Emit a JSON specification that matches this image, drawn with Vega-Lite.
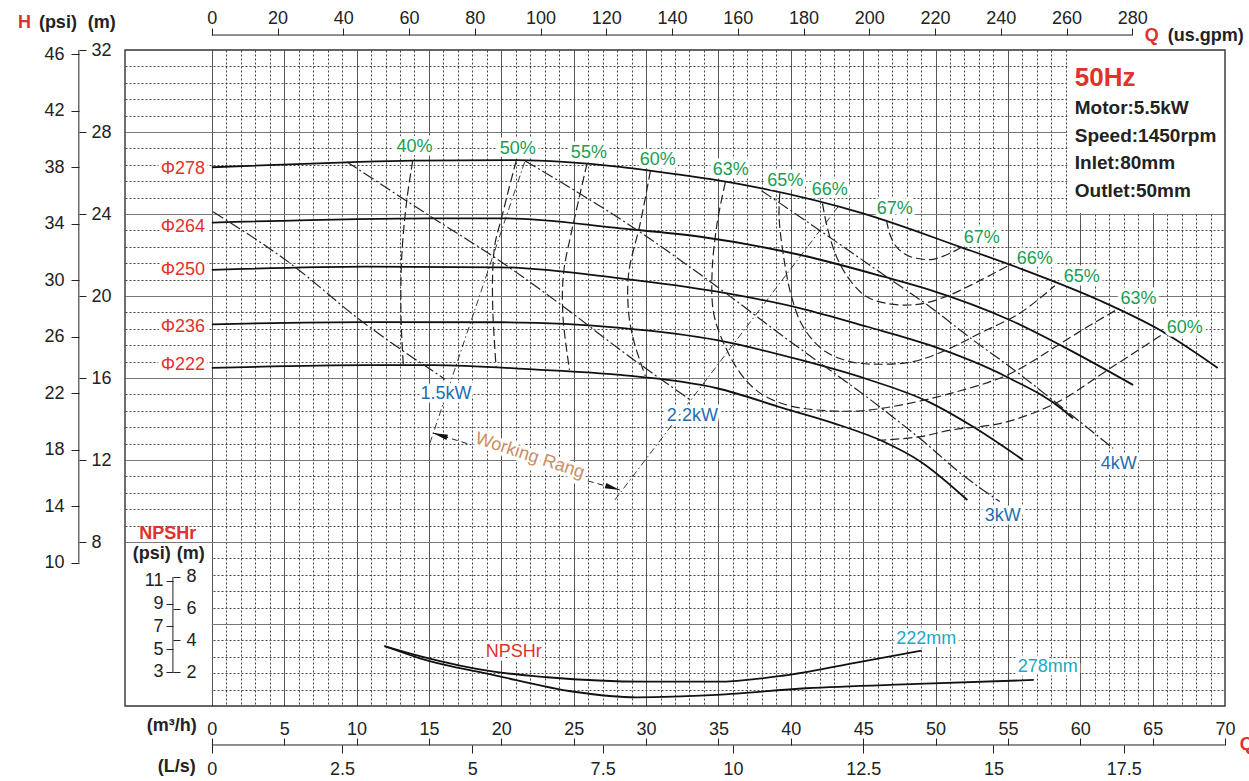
{
"$schema": "https://vega.github.io/schema/vega-lite/v6.json",
"width": 1100, "height": 656,
"autosize": {"type": "none"},
"padding": {"left": 125, "top": 50, "right": 24, "bottom": 75},
"background": "white",
"config": {
  "view": {"stroke": null},
  "font": "Liberation Sans",
  "axis": {"labelFont": "Liberation Sans", "labelFontSize": 18, "labelColor": "#222", "tickColor": "#222", "tickWidth": 1, "labelFlush": false, "labelOverlap": false, "labelBound": false, "domain": false, "grid": false},
  "text": {"font": "Liberation Sans", "fontSize": 18}
},
"datasets": {
  "panels": [{"q1": 59.1, "q2": 70, "h1": 24.05, "h2": 32}, {"q1": -6, "q2": 0, "h1": 0, "h2": 7.95}],
  "frame": [{"q1": -6, "q2": 70, "h1": 0, "h2": 32}],
  "head": [
    {"d": "Φ278", "q": 0, "h": 26.28}, {"d": "Φ278", "q": 9.32, "h": 26.52}, {"d": "Φ278", "q": 13.9, "h": 26.6}, {"d": "Φ278", "q": 21.08, "h": 26.63}, {"d": "Φ278", "q": 28.2, "h": 26.3}, {"d": "Φ278", "q": 30.26, "h": 26.12}, {"d": "Φ278", "q": 36.48, "h": 25.46}, {"d": "Φ278", "q": 44.98, "h": 24.03}, {"d": "Φ278", "q": 51.68, "h": 22.4}, {"d": "Φ278", "q": 55.82, "h": 21.35}, {"d": "Φ278", "q": 61.35, "h": 19.78}, {"d": "Φ278", "q": 65.5, "h": 18.34}, {"d": "Φ278", "q": 69.5, "h": 16.49},
    {"d": "Φ264", "q": 0, "h": 23.58}, {"d": "Φ264", "q": 15.29, "h": 23.79}, {"d": "Φ264", "q": 20.38, "h": 23.79}, {"d": "Φ264", "q": 28.22, "h": 23.3}, {"d": "Φ264", "q": 33.75, "h": 22.89}, {"d": "Φ264", "q": 40.67, "h": 22.0}, {"d": "Φ264", "q": 46.43, "h": 20.94}, {"d": "Φ264", "q": 49.6, "h": 20.3}, {"d": "Φ264", "q": 55.13, "h": 18.83}, {"d": "Φ264", "q": 58.82, "h": 17.53}, {"d": "Φ264", "q": 63.65, "h": 15.66},
    {"d": "Φ250", "q": 0, "h": 21.27}, {"d": "Φ250", "q": 10.7, "h": 21.43}, {"d": "Φ250", "q": 19.92, "h": 21.4}, {"d": "Φ250", "q": 28.22, "h": 20.86}, {"d": "Φ250", "q": 34.91, "h": 20.21}, {"d": "Φ250", "q": 40.67, "h": 19.4}, {"d": "Φ250", "q": 45.29, "h": 18.5}, {"d": "Φ250", "q": 49.6, "h": 17.6}, {"d": "Φ250", "q": 54.9, "h": 16.06}, {"d": "Φ250", "q": 58.82, "h": 14.44}, {"d": "Φ250", "q": 59.5, "h": 14.03},
    {"d": "Φ236", "q": 0, "h": 18.62}, {"d": "Φ236", "q": 10.7, "h": 18.73}, {"d": "Φ236", "q": 19.92, "h": 18.72}, {"d": "Φ236", "q": 28.22, "h": 18.45}, {"d": "Φ236", "q": 34.91, "h": 17.85}, {"d": "Φ236", "q": 40.67, "h": 16.88}, {"d": "Φ236", "q": 45.29, "h": 15.94}, {"d": "Φ236", "q": 49.6, "h": 14.81}, {"d": "Φ236", "q": 52.6, "h": 13.62}, {"d": "Φ236", "q": 56.05, "h": 12.0},
    {"d": "Φ222", "q": 0, "h": 16.49}, {"d": "Φ222", "q": 10.7, "h": 16.63}, {"d": "Φ222", "q": 15.29, "h": 16.63}, {"d": "Φ222", "q": 22.2, "h": 16.42}, {"d": "Φ222", "q": 28.22, "h": 16.15}, {"d": "Φ222", "q": 34.91, "h": 15.5}, {"d": "Φ222", "q": 39.52, "h": 14.52}, {"d": "Φ222", "q": 42.98, "h": 13.79}, {"d": "Φ222", "q": 46.43, "h": 12.89}, {"d": "Φ222", "q": 48.97, "h": 11.92}, {"d": "Φ222", "q": 52.2, "h": 10.05}
  ],
  "eff": [
    {"id": "40", "q": 13.88, "h": 26.6}, {"id": "40", "q": 13.47, "h": 24.68}, {"id": "40", "q": 13.12, "h": 21.92}, {"id": "40", "q": 13.07, "h": 18.99}, {"id": "40", "q": 13.23, "h": 16.63},
    {"id": "50", "q": 21.03, "h": 26.6}, {"id": "50", "q": 20.5, "h": 25.17}, {"id": "50", "q": 20.04, "h": 23.87}, {"id": "50", "q": 19.57, "h": 22.57}, {"id": "50", "q": 19.41, "h": 21.27}, {"id": "50", "q": 19.41, "h": 19.32}, {"id": "50", "q": 19.64, "h": 16.5},
    {"id": "55", "q": 25.92, "h": 26.47}, {"id": "55", "q": 25.45, "h": 25.01}, {"id": "55", "q": 24.88, "h": 23.22}, {"id": "55", "q": 24.3, "h": 21.11}, {"id": "55", "q": 24.26, "h": 18.99}, {"id": "55", "q": 24.71, "h": 16.4},
    {"id": "60L", "q": 30.3, "h": 26.1}, {"id": "60L", "q": 29.6, "h": 23.55}, {"id": "60L", "q": 28.8, "h": 21.11}, {"id": "60L", "q": 28.8, "h": 19.16}, {"id": "60L", "q": 29.14, "h": 17.85}, {"id": "60L", "q": 29.72, "h": 16.55}, {"id": "60L", "q": 29.95, "h": 16.1},
    {"id": "63", "q": 35.48, "h": 25.55}, {"id": "63", "q": 34.91, "h": 23.55}, {"id": "63", "q": 34.56, "h": 21.11}, {"id": "63", "q": 34.67, "h": 19.16}, {"id": "63", "q": 35.37, "h": 17.69}, {"id": "63", "q": 36.52, "h": 16.23}, {"id": "63", "q": 37.9, "h": 15.25}, {"id": "63", "q": 39.75, "h": 14.68}, {"id": "63", "q": 41.83, "h": 14.44}, {"id": "63", "q": 44.82, "h": 14.4}, {"id": "63", "q": 47.59, "h": 14.68}, {"id": "63", "q": 51.05, "h": 15.25}, {"id": "63", "q": 54.97, "h": 16.15}, {"id": "63", "q": 58.66, "h": 17.69}, {"id": "63", "q": 60.5, "h": 18.5}, {"id": "63", "q": 62.69, "h": 19.4},
    {"id": "65", "q": 39.24, "h": 25.01}, {"id": "65", "q": 39.19, "h": 23.87}, {"id": "65", "q": 39.47, "h": 22.08}, {"id": "65", "q": 40.05, "h": 19.97}, {"id": "65", "q": 40.85, "h": 18.5}, {"id": "65", "q": 42.23, "h": 17.37}, {"id": "65", "q": 44.08, "h": 16.8}, {"id": "65", "q": 46.15, "h": 16.67}, {"id": "65", "q": 48.45, "h": 16.8}, {"id": "65", "q": 50.76, "h": 17.37}, {"id": "65", "q": 53.06, "h": 18.18}, {"id": "65", "q": 55.82, "h": 19.16}, {"id": "65", "q": 58.24, "h": 20.5},
    {"id": "66", "q": 42.19, "h": 24.52}, {"id": "66", "q": 42.51, "h": 23.38}, {"id": "66", "q": 43.16, "h": 21.92}, {"id": "66", "q": 44.08, "h": 20.78}, {"id": "66", "q": 45.23, "h": 19.97}, {"id": "66", "q": 46.61, "h": 19.64}, {"id": "66", "q": 48.22, "h": 19.56}, {"id": "66", "q": 49.38, "h": 19.67}, {"id": "66", "q": 50.99, "h": 20.05}, {"id": "66", "q": 53.06, "h": 20.75}, {"id": "66", "q": 55.13, "h": 21.52},
    {"id": "67", "q": 46.61, "h": 23.71}, {"id": "67", "q": 46.85, "h": 23.0}, {"id": "67", "q": 47.3, "h": 22.4}, {"id": "67", "q": 48.0, "h": 22.0}, {"id": "67", "q": 48.69, "h": 21.84}, {"id": "67", "q": 49.83, "h": 21.79}, {"id": "67", "q": 51.22, "h": 22.16}, {"id": "67", "q": 51.8, "h": 22.38},
    {"id": "60R", "q": 45.98, "h": 12.95}, {"id": "60R", "q": 48.97, "h": 13.14}, {"id": "60R", "q": 51.05, "h": 13.46}, {"id": "60R", "q": 54.51, "h": 13.79}, {"id": "60R", "q": 57.27, "h": 14.44}, {"id": "60R", "q": 59.12, "h": 15.09}, {"id": "60R", "q": 61.89, "h": 16.39}, {"id": "60R", "q": 65.8, "h": 18.18}
  ],
  "power": [
    {"id": "1.5kW", "q": 0.09, "h": 24.11}, {"id": "1.5kW", "q": 5.4, "h": 21.6}, {"id": "1.5kW", "q": 10.24, "h": 18.83}, {"id": "1.5kW", "q": 16.12, "h": 15.94},
    {"id": "2.2kW", "q": 9.32, "h": 26.55}, {"id": "2.2kW", "q": 15.31, "h": 23.79}, {"id": "2.2kW", "q": 19.46, "h": 21.92}, {"id": "2.2kW", "q": 24.3, "h": 19.48}, {"id": "2.2kW", "q": 28.22, "h": 17.37}, {"id": "2.2kW", "q": 33.06, "h": 14.93},
    {"id": "3kW", "q": 21.65, "h": 26.59}, {"id": "3kW", "q": 29.37, "h": 23.22}, {"id": "3kW", "q": 34.91, "h": 20.45}, {"id": "3kW", "q": 39.52, "h": 18.01}, {"id": "3kW", "q": 46.43, "h": 14.44}, {"id": "3kW", "q": 49.6, "h": 12.65}, {"id": "3kW", "q": 51.45, "h": 11.51}, {"id": "3kW", "q": 54.44, "h": 9.97},
    {"id": "4kW", "q": 37.98, "h": 25.14}, {"id": "4kW", "q": 42.0, "h": 23.2}, {"id": "4kW", "q": 46.61, "h": 20.94}, {"id": "4kW", "q": 49.6, "h": 19.48}, {"id": "4kW", "q": 52.6, "h": 17.85}, {"id": "4kW", "q": 55.13, "h": 16.55}, {"id": "4kW", "q": 58.82, "h": 14.52}, {"id": "4kW", "q": 62.27, "h": 12.57}
  ],
  "range": [{"id": "L", "q": 15.06, "h": 12.81}, {"id": "L", "q": 21.62, "h": 26.55}, {"id": "R", "q": 27.84, "h": 10.05}, {"id": "R", "q": 43.27, "h": 24.36}],
  "arrow": [{"id": "a", "q": 15.27, "h": 13.32}, {"id": "a", "q": 17.83, "h": 12.76}, {"id": "b", "q": 25.98, "h": 10.98}, {"id": "b", "q": 28.19, "h": 10.54}],
  "tips": [{"end": "left", "q": 15.27, "h": 13.32}, {"end": "right", "q": 28.19, "h": 10.54}],
  "npsh": [
    {"d": "222mm", "q": 11.92, "n": 3.65}, {"d": "222mm", "q": 14.37, "n": 3.02}, {"d": "222mm", "q": 19.48, "n": 2.04}, {"d": "222mm", "q": 23.18, "n": 1.69}, {"d": "222mm", "q": 29.96, "n": 1.41}, {"d": "222mm", "q": 34.88, "n": 1.41}, {"d": "222mm", "q": 39.52, "n": 1.8}, {"d": "222mm", "q": 44.15, "n": 2.55}, {"d": "222mm", "q": 49.03, "n": 3.36},
    {"d": "278mm", "q": 11.92, "n": 3.65}, {"d": "278mm", "q": 14.37, "n": 2.88}, {"d": "278mm", "q": 19.48, "n": 1.83}, {"d": "278mm", "q": 25.03, "n": 0.78}, {"d": "278mm", "q": 29.35, "n": 0.43}, {"d": "278mm", "q": 34.88, "n": 0.58}, {"d": "278mm", "q": 41.07, "n": 1.0}, {"d": "278mm", "q": 48.78, "n": 1.27}, {"d": "278mm", "q": 56.79, "n": 1.52}
  ],
  "psiline": [{"q": -9.19, "p1": 46.3, "p2": 10}],
  "npshpsiline": [{"q": -2.69, "p1": 11.32, "p2": 3}],
  "gpmline": [{"g1": 0, "g2": 280, "h": 32.73}],
  "lsline": [{"l1": 0, "l2": 19.444, "h": -1.902}],
  "notes": [
    {"text": "Φ278", "q": -2.0, "h": 26.2, "kind": "dia"},
    {"text": "Φ264", "q": -2.0, "h": 23.38, "kind": "dia"},
    {"text": "Φ250", "q": -2.0, "h": 21.27, "kind": "dia"},
    {"text": "Φ236", "q": -2.0, "h": 18.5, "kind": "dia"},
    {"text": "Φ222", "q": -2.0, "h": 16.63, "kind": "dia"},
    {"text": "40%", "q": 14.0, "h": 27.27, "kind": "eff"},
    {"text": "50%", "q": 21.14, "h": 27.17, "kind": "eff"},
    {"text": "55%", "q": 26.05, "h": 26.98, "kind": "eff"},
    {"text": "60%", "q": 30.81, "h": 26.63, "kind": "eff"},
    {"text": "63%", "q": 35.86, "h": 26.15, "kind": "eff"},
    {"text": "65%", "q": 39.62, "h": 25.61, "kind": "eff"},
    {"text": "66%", "q": 42.7, "h": 25.15, "kind": "eff"},
    {"text": "67%", "q": 47.19, "h": 24.24, "kind": "eff"},
    {"text": "67%", "q": 53.2, "h": 22.83, "kind": "eff"},
    {"text": "66%", "q": 56.86, "h": 21.8, "kind": "eff"},
    {"text": "65%", "q": 60.11, "h": 20.93, "kind": "eff"},
    {"text": "63%", "q": 64.03, "h": 19.85, "kind": "eff"},
    {"text": "60%", "q": 67.22, "h": 18.46, "kind": "eff"},
    {"text": "1.5kW", "q": 16.17, "h": 15.22, "kind": "kw"},
    {"text": "2.2kW", "q": 33.2, "h": 14.17, "kind": "kw"},
    {"text": "3kW", "q": 54.65, "h": 9.27, "kind": "kw"},
    {"text": "4kW", "q": 62.66, "h": 11.8, "kind": "kw"},
    {"text": "NPSHr", "q": 20.86, "h": 2.65, "kind": "npsh"},
    {"text": "222mm", "q": 49.36, "h": 3.25, "kind": "size"},
    {"text": "278mm", "q": 57.75, "h": 1.92, "kind": "size"},
    {"text": "Working Rang", "q": 21.97, "h": 12.2, "kind": "wr"}
  ],
  "titles": [
    {"text": "H", "q": -13.4, "h": 33.06, "kind": "red"},
    {"text": "(psi)", "q": -11.95, "h": 33.06, "kind": "black"},
    {"text": "(m)", "q": -8.57, "h": 33.06, "kind": "black"},
    {"text": "Q", "q": 64.46, "h": 32.46, "kind": "red"},
    {"text": "(us.gpm)", "q": 66.05, "h": 32.46, "kind": "black"},
    {"text": "(m³/h)", "q": -4.49, "h": -1.2, "kind": "black"},
    {"text": "(L/s)", "q": -3.73, "h": -3.22, "kind": "black"},
    {"text": "Q", "q": 71.02, "h": -2.17, "kind": "red"},
    {"text": "NPSHr", "q": -5.02, "h": 8.13, "kind": "red"},
    {"text": "(psi)", "q": -5.46, "h": 7.17, "kind": "black"},
    {"text": "(m)", "q": -2.42, "h": 7.17, "kind": "black"},
    {"text": "50Hz", "q": 59.62, "h": 30.24, "kind": "hz"},
    {"text": "Motor:5.5kW", "q": 59.62, "h": 28.86, "kind": "info"},
    {"text": "Speed:1450rpm", "q": 59.62, "h": 27.53, "kind": "info"},
    {"text": "Inlet:80mm", "q": 59.62, "h": 26.18, "kind": "info"},
    {"text": "Outlet:50mm", "q": 59.62, "h": 24.84, "kind": "info"}
  ]
},
"layer": [
  {
    "data": {"name": "panels"},
    "mark": {"type": "rect", "fill": "white", "strokeWidth": 0},
    "encoding": {
      "x": {"field": "q1", "type": "quantitative", "scale": {"domain": [-6, 70], "nice": false, "zero": false},
        "axis": {"orient": "bottom", "grid": true, "gridColor": "#444", "gridDash": [2, 2], "gridWidth": 1, "labels": false, "ticks": false, "domain": false, "title": null,
          "values": [1,2,3,4,6,7,8,9,11,12,13,14,16,17,18,19,21,22,23,24,26,27,28,29,31,32,33,34,36,37,38,39,41,42,43,44,46,47,48,49,51,52,53,54,56,57,58,59,61,62,63,64,66,67,68,69]}},
      "x2": {"field": "q2"},
      "y": {"field": "h1", "type": "quantitative", "scale": {"domain": [0, 32], "nice": false, "zero": false},
        "axis": {"orient": "left", "grid": true, "gridColor": "#444", "gridDash": [2, 2], "gridWidth": 1, "labels": false, "ticks": false, "domain": false, "title": null,
          "values": [0.8,1.6,2.4,3.2,4.8,5.6,6.4,7.2,8.8,9.6,10.4,11.2,12.8,13.6,14.4,15.2,16.8,17.6,18.4,19.2,20.8,21.6,22.4,23.2,24.8,25.6,26.4,27.2,28.8,29.6,30.4,31.2]}},
      "y2": {"field": "h2"}
    }
  },
  {
    "data": {"name": "head"},
    "mark": {"type": "line", "color": "#111", "strokeWidth": 1.8, "interpolate": "monotone"},
    "encoding": {
      "x": {"field": "q", "type": "quantitative", "scale": {"domain": [-6, 70], "nice": false, "zero": false},
        "axis": {"orient": "top", "offset": -695, "values": [0,5,10,15,20,25,30,35,40,45,50,55,60,65,70], "tickSize": 7, "labelPadding": 0, "grid": false, "domain": false, "title": null, "format": ".6~g"}},
      "y": {"field": "h", "type": "quantitative", "scale": {"domain": [0, 32], "nice": false, "zero": false},
        "axis": {"orient": "right", "offset": -1146, "values": [8,12,16,20,24,28,32], "tickSize": 7, "labelPadding": 5, "grid": false, "domain": false, "title": null, "format": ".6~g"}},
      "detail": {"field": "d"}
    }
  },
  {
    "data": {"name": "eff"},
    "mark": {"type": "line", "color": "#222", "strokeWidth": 1.2, "strokeDash": [9, 4], "interpolate": "catmull-rom"},
    "encoding": {
      "x": {"field": "q", "type": "quantitative", "scale": {"domain": [-6, 70], "nice": false, "zero": false}, "axis": null},
      "y": {"field": "h", "type": "quantitative", "scale": {"domain": [0, 32], "nice": false, "zero": false}, "axis": null},
      "detail": {"field": "id"},
      "order": {"value": null}
    }
  },
  {
    "data": {"name": "power"},
    "mark": {"type": "line", "color": "#222", "strokeWidth": 1.2, "strokeDash": [12, 3, 2, 3], "interpolate": "monotone"},
    "encoding": {
      "x": {"field": "q", "type": "quantitative", "scale": {"domain": [-6, 70], "nice": false, "zero": false}, "axis": null},
      "y": {"field": "h", "type": "quantitative", "scale": {"domain": [0, 32], "nice": false, "zero": false}, "axis": null},
      "detail": {"field": "id"}
    }
  },
  {
    "data": {"name": "range"},
    "mark": {"type": "line", "color": "#222", "strokeWidth": 0.9, "strokeDash": [7, 3, 1.5, 3]},
    "encoding": {
      "x": {"field": "q", "type": "quantitative", "scale": {"domain": [-6, 70], "nice": false, "zero": false}, "axis": null},
      "y": {"field": "h", "type": "quantitative", "scale": {"domain": [0, 32], "nice": false, "zero": false}, "axis": null},
      "detail": {"field": "id"}
    }
  },
  {
    "data": {"name": "arrow"},
    "mark": {"type": "line", "color": "#222", "strokeWidth": 1, "strokeDash": [6, 4]},
    "encoding": {
      "x": {"field": "q", "type": "quantitative", "scale": {"domain": [-6, 70], "nice": false, "zero": false}, "axis": null},
      "y": {"field": "h", "type": "quantitative", "scale": {"domain": [0, 32], "nice": false, "zero": false}, "axis": null},
      "detail": {"field": "id"}
    }
  },
  {
    "data": {"name": "tips"},
    "transform": [{"filter": "datum.end === 'left'"}],
    "mark": {"type": "point", "shape": "M0,0L1,-0.18L1,0.18Z", "size": 900, "filled": true, "color": "#111", "opacity": 1, "angle": 17, "strokeWidth": 0},
    "encoding": {
      "x": {"field": "q", "type": "quantitative", "scale": {"domain": [-6, 70], "nice": false, "zero": false}, "axis": null},
      "y": {"field": "h", "type": "quantitative", "scale": {"domain": [0, 32], "nice": false, "zero": false}, "axis": null}
    }
  },
  {
    "data": {"name": "tips"},
    "transform": [{"filter": "datum.end === 'right'"}],
    "mark": {"type": "point", "shape": "M0,0L1,-0.18L1,0.18Z", "size": 900, "filled": true, "color": "#111", "opacity": 1, "angle": 197, "strokeWidth": 0},
    "encoding": {
      "x": {"field": "q", "type": "quantitative", "scale": {"domain": [-6, 70], "nice": false, "zero": false}, "axis": null},
      "y": {"field": "h", "type": "quantitative", "scale": {"domain": [0, 32], "nice": false, "zero": false}, "axis": null}
    }
  },
  {
    "data": {"name": "npsh"},
    "mark": {"type": "line", "color": "#111", "strokeWidth": 1.8, "interpolate": "monotone"},
    "encoding": {
      "x": {"field": "q", "type": "quantitative", "scale": {"domain": [-6, 70], "nice": false, "zero": false}, "axis": null},
      "y": {"field": "n", "type": "quantitative", "scale": {"domain": [-0.115, 41.06], "nice": false, "zero": false},
        "axis": {"orient": "right", "offset": -1052, "values": [2, 4, 6, 8], "tickSize": 7, "labelPadding": 6, "grid": false, "domain": false, "title": null, "zindex": 1, "format": ".6~g"}},
      "detail": {"field": "d"}
    }
  },
  {
    "data": {"name": "psiline"},
    "mark": {"type": "rule", "color": "#222", "strokeWidth": 1},
    "encoding": {
      "x": {"field": "q", "type": "quantitative", "scale": {"domain": [-6, 70], "nice": false, "zero": false}, "axis": null},
      "y": {"field": "p1", "type": "quantitative", "scale": {"domain": [-0.149, 46.3], "nice": false, "zero": false},
        "axis": {"orient": "left", "offset": 46, "values": [10,14,18,22,26,30,34,38,42,46], "tickSize": 8, "labelPadding": 7, "grid": false, "domain": false, "title": null, "format": ".6~g"}},
      "y2": {"field": "p2"}
    }
  },
  {
    "data": {"name": "npshpsiline"},
    "mark": {"type": "rule", "color": "#222", "strokeWidth": 1},
    "encoding": {
      "x": {"field": "q", "type": "quantitative", "scale": {"domain": [-6, 70], "nice": false, "zero": false}, "axis": null},
      "y": {"field": "p1", "type": "quantitative", "scale": {"domain": [0.02, 57.51], "nice": false, "zero": false},
        "axis": {"orient": "left", "offset": -48, "values": [3, 5, 7, 9, 11], "tickSize": 7, "labelPadding": 3, "grid": false, "domain": false, "title": null, "zindex": 1, "format": ".6~g"}},
      "y2": {"field": "p2"}
    }
  },
  {
    "data": {"name": "gpmline"},
    "mark": {"type": "rule", "color": "#222", "strokeWidth": 1},
    "encoding": {
      "x": {"field": "g1", "type": "quantitative", "scale": {"domain": [-26.42, 308.2], "nice": false, "zero": false},
        "axis": {"orient": "top", "offset": 15, "values": [0,20,40,60,80,100,120,140,160,180,200,220,240,260,280], "tickSize": 7, "labelPadding": 1, "grid": false, "domain": false, "title": null, "format": ".6~g"}},
      "x2": {"field": "g2"},
      "y": {"field": "h", "type": "quantitative", "scale": {"domain": [0, 32], "nice": false, "zero": false}, "axis": null}
    }
  },
  {
    "data": {"name": "lsline"},
    "mark": {"type": "rule", "color": "#222", "strokeWidth": 1},
    "encoding": {
      "x": {"field": "l1", "type": "quantitative", "scale": {"domain": [-1.6667, 19.4444], "nice": false, "zero": false},
        "axis": {"orient": "bottom", "offset": 39, "values": [0, 2.5, 5, 7.5, 10, 12.5, 15, 17.5], "tickSize": 8, "labelPadding": 7, "grid": false, "domain": false, "title": null, "format": ".6~g"}},
      "x2": {"field": "l2"},
      "y": {"field": "h", "type": "quantitative", "scale": {"domain": [0, 32], "nice": false, "zero": false}, "axis": null}
    }
  },
  {
    "data": {"name": "notes"},
    "transform": [{"filter": "datum.kind !== 'wr'"}],
    "mark": {"type": "text", "align": "center", "baseline": "middle", "fontSize": 18, "fill": "white", "stroke": "white", "strokeWidth": 7, "strokeJoin": "round"},
    "encoding": {
      "x": {"field": "q", "type": "quantitative", "scale": {"domain": [-6, 70], "nice": false, "zero": false}, "axis": null},
      "y": {"field": "h", "type": "quantitative", "scale": {"domain": [0, 32], "nice": false, "zero": false}, "axis": null},
      "text": {"field": "text"}
    }
  },
  {
    "data": {"name": "notes"},
    "transform": [{"filter": "datum.kind === 'wr'"}],
    "mark": {"type": "text", "align": "center", "baseline": "middle", "fontSize": 18, "angle": 18, "fill": "white", "stroke": "white", "strokeWidth": 7, "strokeJoin": "round"},
    "encoding": {
      "x": {"field": "q", "type": "quantitative", "scale": {"domain": [-6, 70], "nice": false, "zero": false}, "axis": null},
      "y": {"field": "h", "type": "quantitative", "scale": {"domain": [0, 32], "nice": false, "zero": false}, "axis": null},
      "text": {"field": "text"}
    }
  },
  {
    "data": {"name": "notes"},
    "transform": [{"filter": "datum.kind === 'dia' || datum.kind === 'npsh'"}],
    "mark": {"type": "text", "align": "center", "baseline": "middle", "fontSize": 18, "color": "#e0322a"},
    "encoding": {
      "x": {"field": "q", "type": "quantitative", "scale": {"domain": [-6, 70], "nice": false, "zero": false}, "axis": null},
      "y": {"field": "h", "type": "quantitative", "scale": {"domain": [0, 32], "nice": false, "zero": false}, "axis": null},
      "text": {"field": "text"}
    }
  },
  {
    "data": {"name": "notes"},
    "transform": [{"filter": "datum.kind === 'eff'"}],
    "mark": {"type": "text", "align": "center", "baseline": "middle", "fontSize": 18, "color": "#1a9c52"},
    "encoding": {
      "x": {"field": "q", "type": "quantitative", "scale": {"domain": [-6, 70], "nice": false, "zero": false}, "axis": null},
      "y": {"field": "h", "type": "quantitative", "scale": {"domain": [0, 32], "nice": false, "zero": false}, "axis": null},
      "text": {"field": "text"}
    }
  },
  {
    "data": {"name": "notes"},
    "transform": [{"filter": "datum.kind === 'kw'"}],
    "mark": {"type": "text", "align": "center", "baseline": "middle", "fontSize": 18, "color": "#1e6db4"},
    "encoding": {
      "x": {"field": "q", "type": "quantitative", "scale": {"domain": [-6, 70], "nice": false, "zero": false}, "axis": null},
      "y": {"field": "h", "type": "quantitative", "scale": {"domain": [0, 32], "nice": false, "zero": false}, "axis": null},
      "text": {"field": "text"}
    }
  },
  {
    "data": {"name": "notes"},
    "transform": [{"filter": "datum.kind === 'size'"}],
    "mark": {"type": "text", "align": "center", "baseline": "middle", "fontSize": 18, "color": "#19a9c3"},
    "encoding": {
      "x": {"field": "q", "type": "quantitative", "scale": {"domain": [-6, 70], "nice": false, "zero": false}, "axis": null},
      "y": {"field": "h", "type": "quantitative", "scale": {"domain": [0, 32], "nice": false, "zero": false}, "axis": null},
      "text": {"field": "text"}
    }
  },
  {
    "data": {"name": "notes"},
    "transform": [{"filter": "datum.kind === 'wr'"}],
    "mark": {"type": "text", "align": "center", "baseline": "middle", "fontSize": 18, "angle": 18, "color": "#c98d63"},
    "encoding": {
      "x": {"field": "q", "type": "quantitative", "scale": {"domain": [-6, 70], "nice": false, "zero": false}, "axis": null},
      "y": {"field": "h", "type": "quantitative", "scale": {"domain": [0, 32], "nice": false, "zero": false}, "axis": null},
      "text": {"field": "text"}
    }
  },
  {
    "data": {"name": "titles"},
    "transform": [{"filter": "datum.kind === 'red'"}],
    "mark": {"type": "text", "align": "left", "baseline": "alphabetic", "fontSize": 18, "fontWeight": "bold", "color": "#e0322a"},
    "encoding": {
      "x": {"field": "q", "type": "quantitative", "scale": {"domain": [-6, 70], "nice": false, "zero": false}, "axis": null},
      "y": {"field": "h", "type": "quantitative", "scale": {"domain": [0, 32], "nice": false, "zero": false}, "axis": null},
      "text": {"field": "text"}
    }
  },
  {
    "data": {"name": "titles"},
    "transform": [{"filter": "datum.kind === 'black'"}],
    "mark": {"type": "text", "align": "left", "baseline": "alphabetic", "fontSize": 18, "fontWeight": "bold", "color": "#222"},
    "encoding": {
      "x": {"field": "q", "type": "quantitative", "scale": {"domain": [-6, 70], "nice": false, "zero": false}, "axis": null},
      "y": {"field": "h", "type": "quantitative", "scale": {"domain": [0, 32], "nice": false, "zero": false}, "axis": null},
      "text": {"field": "text"}
    }
  },
  {
    "data": {"name": "titles"},
    "transform": [{"filter": "datum.kind === 'hz'"}],
    "mark": {"type": "text", "align": "left", "baseline": "alphabetic", "fontSize": 26, "fontWeight": "bold", "color": "#e0322a"},
    "encoding": {
      "x": {"field": "q", "type": "quantitative", "scale": {"domain": [-6, 70], "nice": false, "zero": false}, "axis": null},
      "y": {"field": "h", "type": "quantitative", "scale": {"domain": [0, 32], "nice": false, "zero": false}, "axis": null},
      "text": {"field": "text"}
    }
  },
  {
    "data": {"name": "titles"},
    "transform": [{"filter": "datum.kind === 'info'"}],
    "mark": {"type": "text", "align": "left", "baseline": "alphabetic", "fontSize": 19, "fontWeight": "bold", "color": "#222"},
    "encoding": {
      "x": {"field": "q", "type": "quantitative", "scale": {"domain": [-6, 70], "nice": false, "zero": false}, "axis": null},
      "y": {"field": "h", "type": "quantitative", "scale": {"domain": [0, 32], "nice": false, "zero": false}, "axis": null},
      "text": {"field": "text"}
    }
  },
  {
    "data": {"name": "frame"},
    "mark": {"type": "rect", "fillOpacity": 0, "stroke": "#333", "strokeWidth": 1.4},
    "encoding": {
      "x": {"field": "q1", "type": "quantitative", "scale": {"domain": [-6, 70], "nice": false, "zero": false},
        "axis": {"orient": "bottom", "grid": true, "gridColor": "#555", "gridWidth": 1, "labels": false, "ticks": false, "domain": false, "title": null,
          "values": [0,5,10,15,20,25,30,35,40,45,50,55,60,65]}},
      "x2": {"field": "q2"},
      "y": {"field": "h1", "type": "quantitative", "scale": {"domain": [0, 32], "nice": false, "zero": false},
        "axis": {"orient": "left", "grid": true, "gridColor": "#777", "gridWidth": 1, "labels": false, "ticks": false, "domain": false, "title": null,
          "values": [4,8,12,16,20,24,28]}},
      "y2": {"field": "h2"}
    }
  }
],
"resolve": {"scale": {"x": "independent", "y": "independent"}}
}
